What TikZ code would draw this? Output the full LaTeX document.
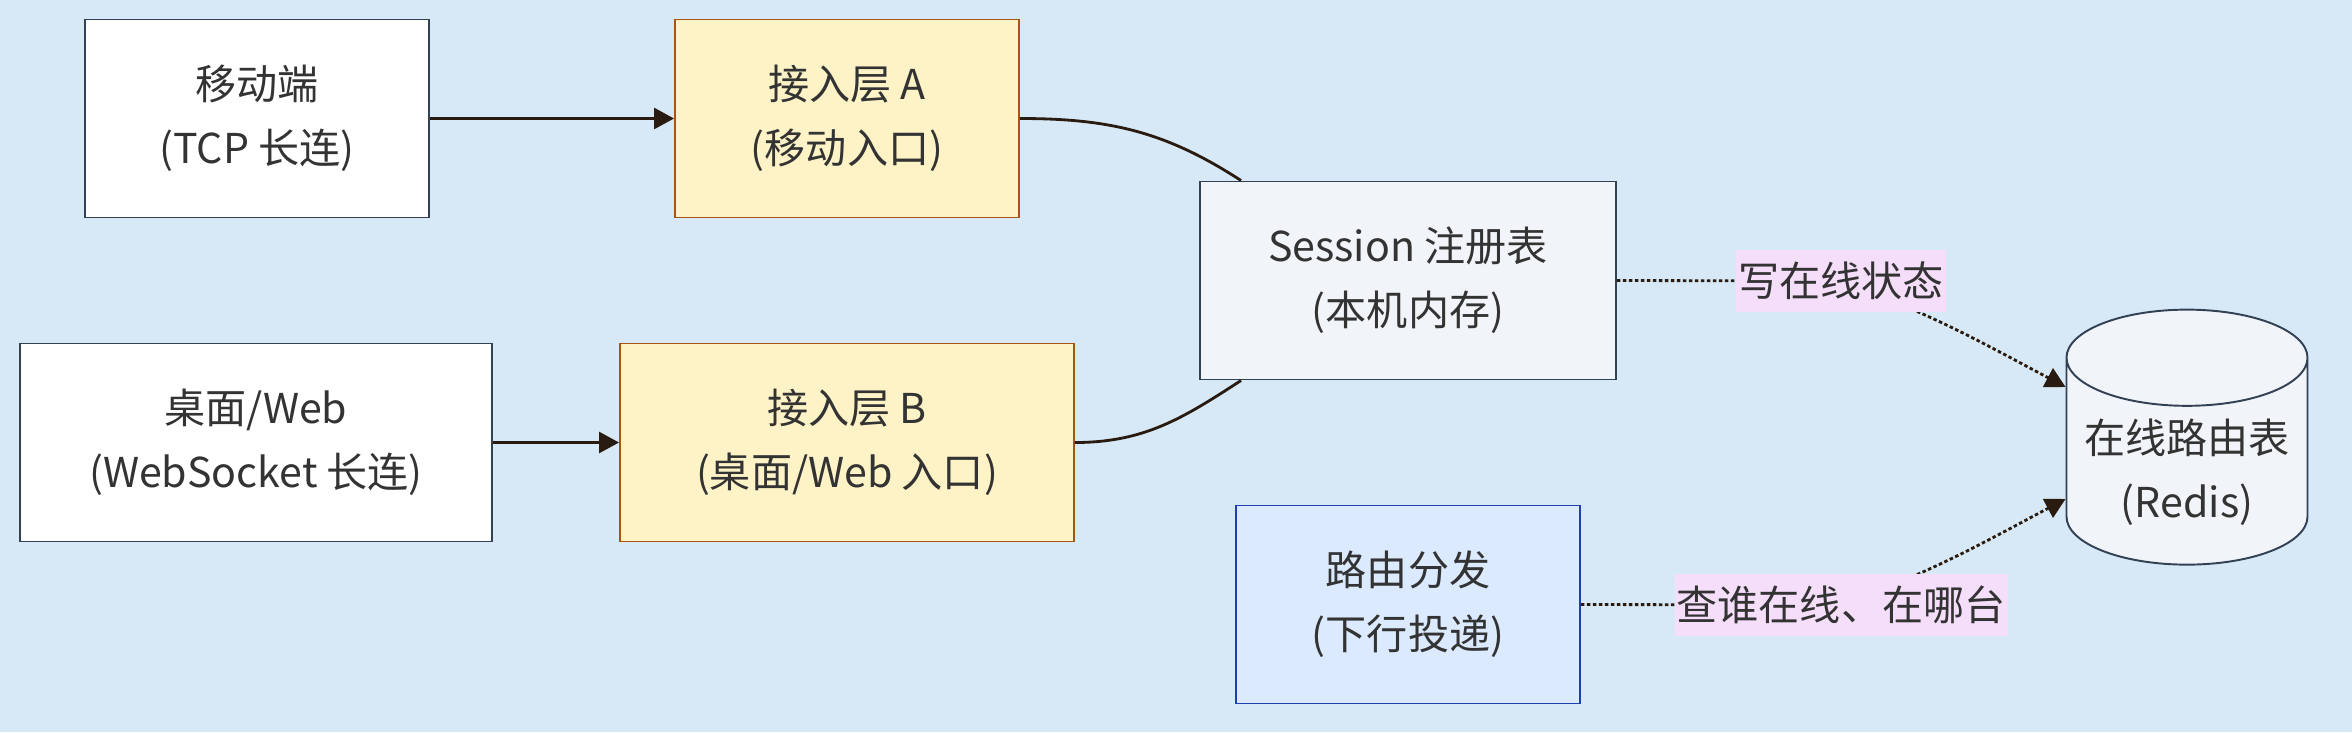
\documentclass[tikz,border=0pt]{standalone}
\usepackage{fontspec}
\setmainfont{Noto Sans CJK SC}
\usepackage{tikz}
\usetikzlibrary{arrows.meta, positioning, shapes.geometric}
\usepackage{xcolor}
\definecolor{canvas}{RGB}{215,233,246}
\definecolor{inkline}{RGB}{42,27,16}
\definecolor{slate}{RGB}{51,65,85}
\definecolor{gatefill}{RGB}{254,243,199}
\definecolor{gateedge}{RGB}{168,84,20}
\definecolor{sessfill}{RGB}{241,245,249}
\definecolor{routefill}{RGB}{219,234,254}
\definecolor{routeedge}{RGB}{30,64,175}
\definecolor{lblfill}{RGB}{244,222,250}
\definecolor{textgray}{RGB}{51,51,51}

\tikzset{
  box/.style={draw=slate, line width=0.55pt, fill=white, minimum height=1.98cm,
    align=center, text=textgray, font=\fontsize{11.7pt}{18.3pt}\selectfont},
  gate/.style={box, fill=gatefill, draw=gateedge},
  solidedge/.style={inkline, line width=0.8pt},
  dotedge/.style={inkline, line width=0.8pt, dash pattern=on 0.035cm off 0.025cm},
  headed/.style={-{Triangle[length=0.2cm,width=0.21cm]}},
  edgelbl/.style={fill=lblfill, inner xsep=0.02cm, minimum height=0.58cm,
    text=textgray, font=\fontsize{11.7pt}{14pt}\selectfont}
}

\begin{document}
\begin{tikzpicture}
  \fill[canvas] (0,0) rectangle (23.52,7.32);
  \useasboundingbox (0,0) rectangle (23.52,7.32);

  % clients and access layer
  \node[box, minimum width=3.44cm] (mobile) at (2.57,6.135) {移动端\\(TCP 长连)};
  \node[gate, minimum width=3.44cm] (gwA) at (8.47,6.135) {接入层 A\\(移动入口)};
  \node[box, minimum width=4.72cm] (web) at (2.56,2.895) {桌面/Web\\(WebSocket 长连)};
  \node[gate, minimum width=4.54cm] (gwB) at (8.47,2.895) {接入层 B\\(桌面/Web 入口)};

  % session and routing
  \node[box, fill=sessfill, minimum width=4.16cm] (sess) at (14.08,4.515) {Session 注册表\\(本机内存)};
  \node[box, fill=routefill, draw=routeedge, minimum width=3.44cm] (router) at (14.08,1.275) {路由分发\\(下行投递)};
  \node[box, fill=sessfill, cylinder, shape border rotate=90, aspect=0.42,
    minimum width=2.41cm, minimum height=2.31cm] (redis) at (21.87,2.60) {在线路由表\\(Redis)};

  \draw[solidedge, headed] (mobile) -- (gwA);
  \draw[solidedge, headed] (web) -- (gwB);
  \draw[solidedge] (gwA.east) to[out=0, in=147] ([xshift=0.42cm]sess.north west);
  \draw[solidedge] (gwB.east) to[out=0, in=-147] ([xshift=0.42cm]sess.south west);

  \coordinate (wmid) at (18.41,4.51);
  \coordinate (qmid) at (18.41,1.27);
  \draw[dotedge, headed] (sess.east) -- (wmid) to[out=-20, in=152] ([yshift=0.85cm]redis.west);
  \draw[dotedge, headed] (router.east) -- (qmid) to[out=20, in=-152] ([yshift=-0.27cm]redis.west);
  \node[edgelbl] (wlbl) at (wmid) {写在线状态};
  \node[edgelbl] (qlbl) at (qmid) {查谁在线、在哪台};
\end{tikzpicture}
\end{document}
